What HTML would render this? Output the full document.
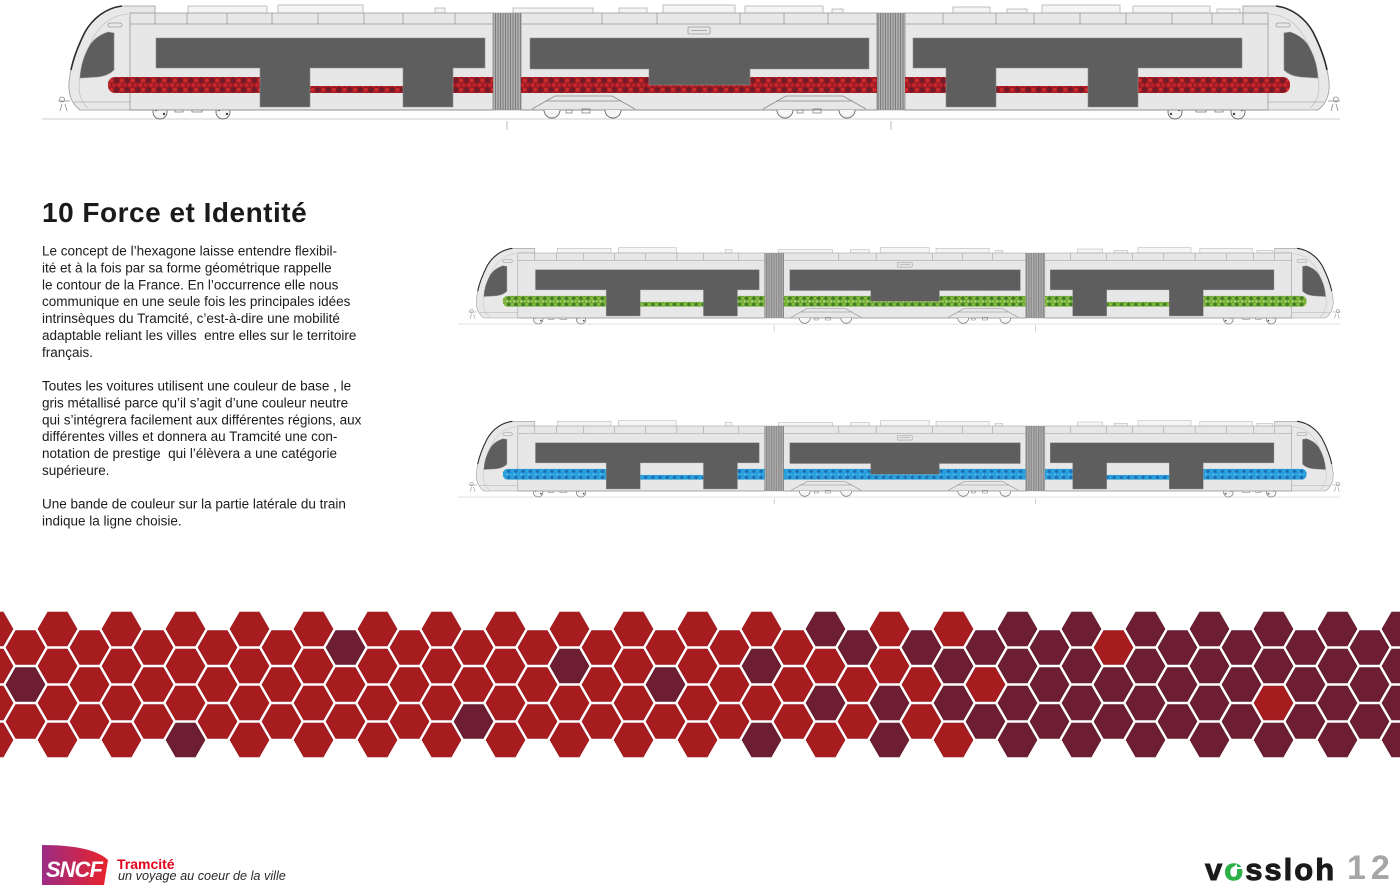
<!DOCTYPE html>
<html><head><meta charset="utf-8">
<style>
html,body{margin:0;padding:0;background:#fff;}
body{width:1400px;height:896px;overflow:hidden;}
svg{display:block;}
.r{fill:#a71c1f;stroke:#930f16;}
.d{fill:#6e1e32;stroke:#551425;}
</style></head>
<body>
<svg width="1400" height="896" viewBox="0 0 1400 896" xmlns="http://www.w3.org/2000/svg">
<defs>
 <polygon id="h" points="19.5,0 9.75,16.89 -9.75,16.89 -19.5,0 -9.75,-16.89 9.75,-16.89" stroke-width="0.6"/>
 <pattern id="bel" width="2.5" height="20" patternUnits="userSpaceOnUse">
  <rect width="2.5" height="20" fill="#b3b3b3"/><rect width="1" height="20" fill="#7a7a7a"/>
 </pattern>
 <pattern id="pr" width="10.6" height="9.2" patternUnits="userSpaceOnUse">
  <rect width="10.6" height="9.2" fill="#8e1820"/>
  <circle cx="2.65" cy="2.3" r="2.2" fill="#c8262c"/>
  <circle cx="7.95" cy="2.3" r="2.2" fill="#b4222a"/>
  <circle cx="0" cy="6.9" r="2.2" fill="#6e1c2c"/>
  <circle cx="10.6" cy="6.9" r="2.2" fill="#6e1c2c"/>
  <circle cx="5.3" cy="6.9" r="2.2" fill="#cc2a2e"/>
 </pattern>
 <pattern id="pg" width="10.6" height="9.2" patternUnits="userSpaceOnUse">
  <rect width="10.6" height="9.2" fill="#5a9432"/>
  <circle cx="2.65" cy="2.3" r="2.2" fill="#92c744"/>
  <circle cx="7.95" cy="2.3" r="2.2" fill="#a9d262"/>
  <circle cx="0" cy="6.9" r="2.2" fill="#3f7a26"/>
  <circle cx="10.6" cy="6.9" r="2.2" fill="#3f7a26"/>
  <circle cx="5.3" cy="6.9" r="2.2" fill="#8cc23e"/>
 </pattern>
 <pattern id="pb" width="10.6" height="9.2" patternUnits="userSpaceOnUse">
  <rect width="10.6" height="9.2" fill="#2390cf"/>
  <circle cx="2.65" cy="2.3" r="2.2" fill="#2eaae4"/>
  <circle cx="7.95" cy="2.3" r="2.2" fill="#45b6ea"/>
  <circle cx="0" cy="6.9" r="2.2" fill="#1e6cb2"/>
  <circle cx="10.6" cy="6.9" r="2.2" fill="#1e6cb2"/>
  <circle cx="5.3" cy="6.9" r="2.2" fill="#2ba6e1"/>
 </pattern>
 <linearGradient id="sg" x1="0" y1="0" x2="1" y2="0">
  <stop offset="0" stop-color="#9c2b86"/><stop offset="1" stop-color="#e8232a"/>
 </linearGradient>

 <g id="cab">
  <path d="M155,6 L122,6 C106,8 93,18 85,32 C77,47 71,64 69,82 C68,95 72,104 80,110 L130,110 L130,13 L155,13 Z" fill="#e8e8e8" stroke="#9a9a9a" stroke-width="0.8"/>
  <path d="M122,6 C106,8 93,18 85,32 C78,46 73,60 71,70" fill="none" stroke="#2a2a2a" stroke-width="1.6"/>
  <path d="M128,14 C112,15 101,24 93,38 C86,52 80,68 79,86 C79,96 82,103 88,108" fill="none" stroke="#c4c4c4" stroke-width="0.8"/>
  <line x1="74" y1="102" x2="130" y2="102" stroke="#b0b0b0" stroke-width="0.8"/>
  <rect x="108" y="23" width="14" height="4" rx="2" fill="none" stroke="#9a9a9a" stroke-width="0.8"/>
  <path d="M58,101 L70,101 M62,97 a2.5,2.5 0 1 0 0.1,0 M62,104 L60,111 M65,104 L67,111" fill="none" stroke="#8a8a8a" stroke-width="0.8"/>
  <path d="M147,96 H240 L246,109 H141 Z" fill="#ededed" stroke="#9a9a9a" stroke-width="0.8"/>
  <circle cx="160" cy="112" r="7" fill="#f6f6f6" stroke="#666" stroke-width="0.9"/>
  <circle cx="223" cy="112" r="7" fill="#f6f6f6" stroke="#666" stroke-width="0.9"/>
  <path d="M167,110 H216 M175,106 h8 v6 h-8z M192,107 h10 v5 h-10z" fill="none" stroke="#777" stroke-width="0.8"/>
  <circle cx="156" cy="110" r="1.2" fill="#444"/><circle cx="164" cy="114" r="1.2" fill="#444"/>
  <circle cx="219" cy="110" r="1.2" fill="#444"/><circle cx="227" cy="114" r="1.2" fill="#444"/>
  <path d="M132,58 H152 L150,68 H132 Z" fill="url(#sg)"/>
 </g>
 <g id="tbody">
  <line x1="42" y1="119" x2="1340" y2="119" stroke="#cfcfcf" stroke-width="1"/>
  <line x1="507" y1="121" x2="507" y2="130" stroke="#aaa" stroke-width="0.8"/>
  <line x1="891" y1="121" x2="891" y2="130" stroke="#aaa" stroke-width="0.8"/>
  <g fill="#f5f5f5" stroke="#b3b3b3" stroke-width="0.8">
   <rect x="188" y="6" width="79" height="7"/><rect x="278" y="5" width="85" height="8"/><rect x="435" y="8" width="10" height="5"/>
   <rect x="513" y="8" width="80" height="5"/><rect x="619" y="8" width="28" height="5"/><rect x="663" y="5" width="72" height="8"/>
   <rect x="745" y="6" width="78" height="7"/><rect x="832" y="9" width="11" height="4"/>
   <rect x="953" y="7" width="37" height="6"/><rect x="1007" y="9" width="20" height="4"/><rect x="1042" y="5" width="78" height="8"/>
   <rect x="1133" y="6" width="77" height="7"/><rect x="1217" y="9" width="23" height="4"/>
  </g>
  <use href="#cab"/>
  <use href="#cab" transform="translate(1398,0) scale(-1,1)"/>
  <g fill="#e7e7e7" stroke="#a5a5a5" stroke-width="0.9">
   <rect x="130" y="13" width="363" height="97"/>
   <rect x="521" y="13" width="356" height="97"/>
   <rect x="905" y="13" width="363" height="97"/>
  </g>
  <g stroke="#9c9c9c" stroke-width="0.8" fill="none">
   <path d="M130,24 H493 M521,24 H877 M905,24 H1268"/>
   <path d="M155,13V24 M187,13V24 M227,13V24 M272,13V24 M318,13V24 M364,13V24 M403,13V24 M455,13V24"/>
   <path d="M602,13V24 M657,13V24 M740,13V24 M784,13V24 M828,13V24"/>
   <path d="M943,13V24 M996,13V24 M1034,13V24 M1080,13V24 M1126,13V24 M1172,13V24 M1212,13V24 M1243,13V24"/>
   <path d="M130,110 H493 M521,110 H877 M905,110 H1268" stroke="#888"/>
   <rect x="688" y="27" width="22" height="7" rx="1"/>
   <path d="M691,30.5 H707"/>
  </g>
  <rect x="493" y="13" width="28" height="97" fill="url(#bel)" stroke="#8f8f8f" stroke-width="0.6"/>
  <rect x="877" y="13" width="28" height="97" fill="url(#bel)" stroke="#8f8f8f" stroke-width="0.6"/>
  <g fill="none" stroke="#8a8a8a" stroke-width="0.8">
   <path d="M532,109 L555,96 H612 L635,109 M545,101 H622"/>
   <path d="M763,109 L786,96 H843 L866,109 M776,101 H853"/>
  </g>
  <g fill="#f6f6f6" stroke="#666" stroke-width="0.9">
   <path d="M544,110 a8,8 0 0 0 16,0"/><path d="M605,110 a8,8 0 0 0 16,0"/>
   <path d="M777,110 a8,8 0 0 0 16,0"/><path d="M839,110 a8,8 0 0 0 16,0"/>
  </g>
  <path d="M566,110 h6 v3 h-6z M582,109 h8 v4 h-8z M797,110 h6 v3 h-6z M813,109 h8 v4 h-8z" fill="none" stroke="#777" stroke-width="0.7"/>
 </g>
 <g id="tband">
  <rect x="108" y="77" width="157" height="16" rx="7"/>
  <rect x="300" y="86" width="110" height="7"/>
  <rect x="448" y="77" width="45" height="16"/>
  <rect x="521" y="77" width="356" height="16"/>
  <rect x="905" y="77" width="45" height="16"/>
  <rect x="988" y="86" width="110" height="7"/>
  <rect x="1133" y="77" width="157" height="16" rx="7"/>
 </g>
 <g id="twin" fill="#5e5e5e" stroke="#8c8c8c" stroke-width="0.6">
  <path d="M156,38 H485 V68 H453 V107 H403 V68 H310 V107 H260 V68 H156 Z"/>
  <path d="M530,38 H869 V69 H750 V85 H649 V69 H530 Z"/>
  <path d="M913,38 H1242 V68 H1138 V107 H1088 V68 H996 V107 H946 V68 H913 Z"/>
  <path d="M108,32 L114,33 L114,70 Q108,76 97,77 L80,78 Q81,60 90,45 Q96,36 108,32 Z"/>
  <path transform="translate(1398,0) scale(-1,1)" d="M108,32 L114,33 L114,70 Q108,76 97,77 L80,78 Q81,60 90,45 Q96,36 108,32 Z"/>
 </g>
</defs>

<g>
 <use href="#tbody"/>
 <use href="#tband" fill="url(#pr)"/>
 <use href="#twin"/>
</g>
<g transform="translate(429.4,244.3) scale(0.68,0.67)">
 <use href="#tbody"/>
 <use href="#tband" fill="url(#pg)"/>
 <use href="#twin"/>
</g>
<g transform="translate(429.4,417.3) scale(0.68,0.67)">
 <use href="#tbody"/>
 <use href="#tband" fill="url(#pb)"/>
 <use href="#twin"/>
</g>

<text x="42" y="222" font-family="Liberation Sans, Arial, sans-serif" font-size="28" font-weight="bold" letter-spacing="0.5" fill="#1a1a1a">10 Force et Identité</text>
<text font-family="Liberation Sans, Arial, sans-serif" font-size="13.5" fill="#1c1c1c" style="white-space:pre">
 <tspan x="42" y="255.5">Le concept de l’hexagone laisse entendre flexibil-</tspan>
 <tspan x="42" y="272.4">ité et à la fois par sa forme géométrique rappelle</tspan>
 <tspan x="42" y="289.3">le contour de la France. En l’occurrence elle nous</tspan>
 <tspan x="42" y="306.1">communique en une seule fois les principales idées</tspan>
 <tspan x="42" y="323">intrinsèques du Tramcité, c’est-à-dire une mobilité</tspan>
 <tspan x="42" y="339.9">adaptable reliant les villes  entre elles sur le territoire</tspan>
 <tspan x="42" y="356.8">français.</tspan>
 <tspan x="42" y="390.5">Toutes les voitures utilisent une couleur de base , le</tspan>
 <tspan x="42" y="407.4">gris métallisé parce qu’il s’agit d’une couleur neutre</tspan>
 <tspan x="42" y="424.3">qui s’intégrera facilement aux différentes régions, aux</tspan>
 <tspan x="42" y="441.1">différentes villes et donnera au Tramcité une con-</tspan>
 <tspan x="42" y="458">notation de prestige  qui l’élèvera a une catégorie</tspan>
 <tspan x="42" y="474.9">supérieure.</tspan>
 <tspan x="42" y="508.6">Une bande de couleur sur la partie latérale du train</tspan>
 <tspan x="42" y="525.5">indique la ligne choisie.</tspan>
</text>

<g>
<use href="#h" x="-6.5" y="629" class="r"/><use href="#h" x="-6.5" y="666" class="r"/><use href="#h" x="-6.5" y="703" class="r"/><use href="#h" x="-6.5" y="740" class="r"/>
<use href="#h" x="25.5" y="647.5" class="r"/><use href="#h" x="25.5" y="684.5" class="d"/><use href="#h" x="25.5" y="721.5" class="r"/>
<use href="#h" x="57.5" y="629" class="r"/><use href="#h" x="57.5" y="666" class="r"/><use href="#h" x="57.5" y="703" class="r"/><use href="#h" x="57.5" y="740" class="r"/>
<use href="#h" x="89.5" y="647.5" class="r"/><use href="#h" x="89.5" y="684.5" class="r"/><use href="#h" x="89.5" y="721.5" class="r"/>
<use href="#h" x="121.5" y="629" class="r"/><use href="#h" x="121.5" y="666" class="r"/><use href="#h" x="121.5" y="703" class="r"/><use href="#h" x="121.5" y="740" class="r"/>
<use href="#h" x="153.5" y="647.5" class="r"/><use href="#h" x="153.5" y="684.5" class="r"/><use href="#h" x="153.5" y="721.5" class="r"/>
<use href="#h" x="185.5" y="629" class="r"/><use href="#h" x="185.5" y="666" class="r"/><use href="#h" x="185.5" y="703" class="r"/><use href="#h" x="185.5" y="740" class="d"/>
<use href="#h" x="217.5" y="647.5" class="r"/><use href="#h" x="217.5" y="684.5" class="r"/><use href="#h" x="217.5" y="721.5" class="r"/>
<use href="#h" x="249.5" y="629" class="r"/><use href="#h" x="249.5" y="666" class="r"/><use href="#h" x="249.5" y="703" class="r"/><use href="#h" x="249.5" y="740" class="r"/>
<use href="#h" x="281.5" y="647.5" class="r"/><use href="#h" x="281.5" y="684.5" class="r"/><use href="#h" x="281.5" y="721.5" class="r"/>
<use href="#h" x="313.5" y="629" class="r"/><use href="#h" x="313.5" y="666" class="r"/><use href="#h" x="313.5" y="703" class="r"/><use href="#h" x="313.5" y="740" class="r"/>
<use href="#h" x="345.5" y="647.5" class="d"/><use href="#h" x="345.5" y="684.5" class="r"/><use href="#h" x="345.5" y="721.5" class="r"/>
<use href="#h" x="377.5" y="629" class="r"/><use href="#h" x="377.5" y="666" class="r"/><use href="#h" x="377.5" y="703" class="r"/><use href="#h" x="377.5" y="740" class="r"/>
<use href="#h" x="409.5" y="647.5" class="r"/><use href="#h" x="409.5" y="684.5" class="r"/><use href="#h" x="409.5" y="721.5" class="r"/>
<use href="#h" x="441.5" y="629" class="r"/><use href="#h" x="441.5" y="666" class="r"/><use href="#h" x="441.5" y="703" class="r"/><use href="#h" x="441.5" y="740" class="r"/>
<use href="#h" x="473.5" y="647.5" class="r"/><use href="#h" x="473.5" y="684.5" class="r"/><use href="#h" x="473.5" y="721.5" class="d"/>
<use href="#h" x="505.5" y="629" class="r"/><use href="#h" x="505.5" y="666" class="r"/><use href="#h" x="505.5" y="703" class="r"/><use href="#h" x="505.5" y="740" class="r"/>
<use href="#h" x="537.5" y="647.5" class="r"/><use href="#h" x="537.5" y="684.5" class="r"/><use href="#h" x="537.5" y="721.5" class="r"/>
<use href="#h" x="569.5" y="629" class="r"/><use href="#h" x="569.5" y="666" class="d"/><use href="#h" x="569.5" y="703" class="r"/><use href="#h" x="569.5" y="740" class="r"/>
<use href="#h" x="601.5" y="647.5" class="r"/><use href="#h" x="601.5" y="684.5" class="r"/><use href="#h" x="601.5" y="721.5" class="r"/>
<use href="#h" x="633.5" y="629" class="r"/><use href="#h" x="633.5" y="666" class="r"/><use href="#h" x="633.5" y="703" class="r"/><use href="#h" x="633.5" y="740" class="r"/>
<use href="#h" x="665.5" y="647.5" class="r"/><use href="#h" x="665.5" y="684.5" class="d"/><use href="#h" x="665.5" y="721.5" class="r"/>
<use href="#h" x="697.5" y="629" class="r"/><use href="#h" x="697.5" y="666" class="r"/><use href="#h" x="697.5" y="703" class="r"/><use href="#h" x="697.5" y="740" class="r"/>
<use href="#h" x="729.5" y="647.5" class="r"/><use href="#h" x="729.5" y="684.5" class="r"/><use href="#h" x="729.5" y="721.5" class="r"/>
<use href="#h" x="761.5" y="629" class="r"/><use href="#h" x="761.5" y="666" class="d"/><use href="#h" x="761.5" y="703" class="r"/><use href="#h" x="761.5" y="740" class="d"/>
<use href="#h" x="793.5" y="647.5" class="r"/><use href="#h" x="793.5" y="684.5" class="r"/><use href="#h" x="793.5" y="721.5" class="r"/>
<use href="#h" x="825.5" y="629" class="d"/><use href="#h" x="825.5" y="666" class="r"/><use href="#h" x="825.5" y="703" class="d"/><use href="#h" x="825.5" y="740" class="r"/>
<use href="#h" x="857.5" y="647.5" class="d"/><use href="#h" x="857.5" y="684.5" class="r"/><use href="#h" x="857.5" y="721.5" class="r"/>
<use href="#h" x="889.5" y="629" class="r"/><use href="#h" x="889.5" y="666" class="r"/><use href="#h" x="889.5" y="703" class="d"/><use href="#h" x="889.5" y="740" class="d"/>
<use href="#h" x="921.5" y="647.5" class="d"/><use href="#h" x="921.5" y="684.5" class="r"/><use href="#h" x="921.5" y="721.5" class="r"/>
<use href="#h" x="953.5" y="629" class="r"/><use href="#h" x="953.5" y="666" class="d"/><use href="#h" x="953.5" y="703" class="d"/><use href="#h" x="953.5" y="740" class="r"/>
<use href="#h" x="985.5" y="647.5" class="d"/><use href="#h" x="985.5" y="684.5" class="r"/><use href="#h" x="985.5" y="721.5" class="d"/>
<use href="#h" x="1017.5" y="629" class="d"/><use href="#h" x="1017.5" y="666" class="d"/><use href="#h" x="1017.5" y="703" class="d"/><use href="#h" x="1017.5" y="740" class="d"/>
<use href="#h" x="1049.5" y="647.5" class="d"/><use href="#h" x="1049.5" y="684.5" class="d"/><use href="#h" x="1049.5" y="721.5" class="d"/>
<use href="#h" x="1081.5" y="629" class="d"/><use href="#h" x="1081.5" y="666" class="d"/><use href="#h" x="1081.5" y="703" class="d"/><use href="#h" x="1081.5" y="740" class="d"/>
<use href="#h" x="1113.5" y="647.5" class="r"/><use href="#h" x="1113.5" y="684.5" class="d"/><use href="#h" x="1113.5" y="721.5" class="d"/>
<use href="#h" x="1145.5" y="629" class="d"/><use href="#h" x="1145.5" y="666" class="d"/><use href="#h" x="1145.5" y="703" class="d"/><use href="#h" x="1145.5" y="740" class="d"/>
<use href="#h" x="1177.5" y="647.5" class="d"/><use href="#h" x="1177.5" y="684.5" class="d"/><use href="#h" x="1177.5" y="721.5" class="d"/>
<use href="#h" x="1209.5" y="629" class="d"/><use href="#h" x="1209.5" y="666" class="d"/><use href="#h" x="1209.5" y="703" class="d"/><use href="#h" x="1209.5" y="740" class="d"/>
<use href="#h" x="1241.5" y="647.5" class="d"/><use href="#h" x="1241.5" y="684.5" class="d"/><use href="#h" x="1241.5" y="721.5" class="d"/>
<use href="#h" x="1273.5" y="629" class="d"/><use href="#h" x="1273.5" y="666" class="d"/><use href="#h" x="1273.5" y="703" class="r"/><use href="#h" x="1273.5" y="740" class="d"/>
<use href="#h" x="1305.5" y="647.5" class="d"/><use href="#h" x="1305.5" y="684.5" class="d"/><use href="#h" x="1305.5" y="721.5" class="d"/>
<use href="#h" x="1337.5" y="629" class="d"/><use href="#h" x="1337.5" y="666" class="d"/><use href="#h" x="1337.5" y="703" class="d"/><use href="#h" x="1337.5" y="740" class="d"/>
<use href="#h" x="1369.5" y="647.5" class="d"/><use href="#h" x="1369.5" y="684.5" class="d"/><use href="#h" x="1369.5" y="721.5" class="d"/>
<use href="#h" x="1401.5" y="629" class="d"/><use href="#h" x="1401.5" y="666" class="d"/><use href="#h" x="1401.5" y="703" class="d"/><use href="#h" x="1401.5" y="740" class="d"/>
</g>

<path d="M42,845 Q92,845 108,860 L104,885 L42,885 Z" fill="url(#sg)"/>
<text x="46" y="877" font-family="Liberation Sans, Arial, sans-serif" font-size="22" font-weight="bold" font-style="italic" letter-spacing="-1" fill="#fff">SNCF</text>
<text x="117" y="869" font-family="Liberation Sans, Arial, sans-serif" font-size="14" font-weight="bold" fill="#e3001b">Tramcité</text>
<text x="118" y="880" font-family="Liberation Sans, Arial, sans-serif" font-size="12.7" font-style="italic" fill="#2a2a2a">un voyage au coeur de la ville</text>

<text x="1205" y="880" font-family="Liberation Sans, Arial, sans-serif" font-size="31" font-weight="bold" letter-spacing="2" fill="#1a1a1a" stroke="#1a1a1a" stroke-width="0.9">v<tspan fill="#2eb14b" stroke="#2eb14b">o</tspan>ssloh</text>
<path d="M1232,868 l5,-4 l0,3 l5,0 l0,2 l-5,0 l0,3 z" fill="#fff"/>
<text x="1347" y="879" font-family="Liberation Sans, Arial, sans-serif" font-size="34" font-weight="bold" letter-spacing="5" fill="#a6a6a6">12</text>
</svg>
</body></html>
